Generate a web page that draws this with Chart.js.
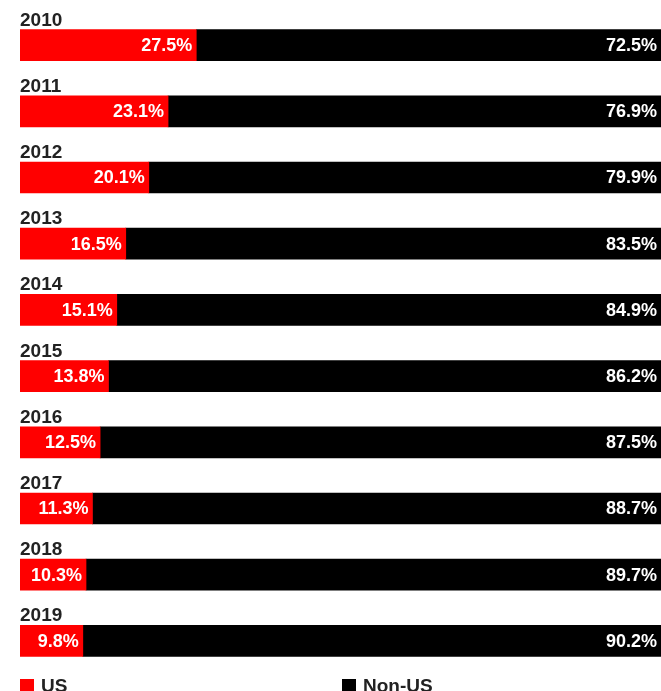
<!DOCTYPE html>
<html>
<head>
<meta charset="utf-8">
<script src="https://cdn.jsdelivr.net/npm/chart.js@4/dist/chart.umd.min.js"></script>
<style>
  body { margin: 0; background: #fff; font-family: "Liberation Sans", Arial, sans-serif; }
  #wrap { position: relative; width: 661px; height: 691px; overflow: hidden; }
  .legend-item { position: absolute; top: 675px; font-weight: bold; font-size: 19px; color: #222; display: flex; align-items: center; }
  .swatch { width: 14px; height: 15px; margin-right: 7px; }
</style>
</head>
<body>
<div id="wrap">
  <canvas id="chart" width="661" height="691"></canvas>
  <div class="legend-item" style="left:20px"><span class="swatch" style="background:#ff0000"></span>US</div>
  <div class="legend-item" style="left:342px"><span class="swatch" style="background:#000"></span>Non-US</div>
</div>
<script>
// data
const years = ["2010", "2011", "2012", "2013", "2014", "2015", "2016", "2017", "2018", "2019"];
const usShare = [27.5, 23.1, 20.1, 16.5, 15.1, 13.8, 12.5, 11.3, 10.3, 9.8];
const nonUsShare = [72.5, 76.9, 79.9, 83.5, 84.9, 86.2, 87.5, 88.7, 89.7, 90.2];

const YEAR_FONT = "bold 19px 'Liberation Sans', Arial, sans-serif";
const VALUE_FONT = "bold 18px 'Liberation Sans', Arial, sans-serif";

// year above each bar, percentage inside each segment
const barLabels = {
    id: "barLabels",
    afterDatasetsDraw(chart) {
        const ctx = chart.ctx;
        ctx.save();

        ctx.font = YEAR_FONT;
        chart.getDatasetMeta(0).data.forEach((bar, i) => {
            ctx.fillStyle = "#222";
            ctx.textAlign = "left";
            ctx.textBaseline = "alphabetic";
            ctx.fillText(years[i], chart.chartArea.left, bar.y - bar.height / 2 - 4);
        });

        ctx.font = VALUE_FONT;
        chart.data.datasets.forEach((ds, d) => {
            chart.getDatasetMeta(d).data.forEach((bar, i) => {
                ctx.fillStyle = "#fff";
                ctx.textAlign = "right";
                ctx.textBaseline = "middle";
                ctx.fillText(ds.data[i].toFixed(1) + "%", bar.x - 4, bar.y + 1);
            });
        });
        ctx.restore();
    }
};

new Chart(document.getElementById("chart"), {
    type: "bar",
    data: {
        labels: years,
        datasets: [
            { label: "US", data: usShare, backgroundColor: "#ff0000" },
            { label: "Non-US", data: nonUsShare, backgroundColor: "#000000" }
        ]
    },
    options: {
        indexAxis: "y",
        responsive: false,
        animation: false,
        layout: { padding: { top: 12, bottom: 17, left: 20, right: 0 } },
        datasets: { bar: { barThickness: 31 } },
        scales: {
            x: { stacked: true, min: 0, max: 100, display: false },
            y: { stacked: true, display: false }
        },
        plugins: {
            legend: { display: false },
            tooltip: { enabled: false }
        }
    },
    plugins: [barLabels]
});
</script>
</body>
</html>
